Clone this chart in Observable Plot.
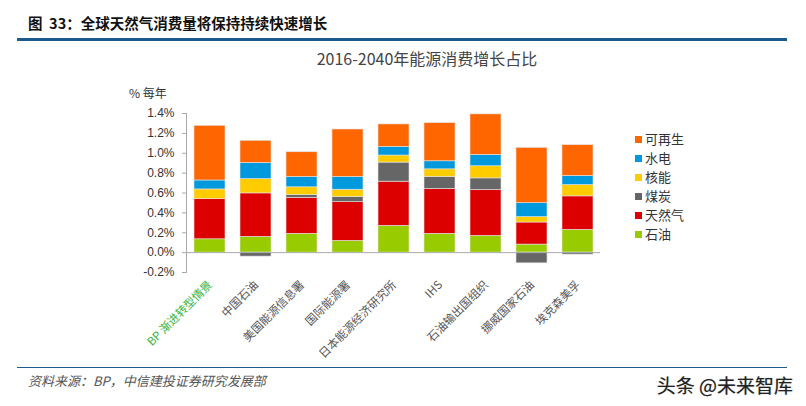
<!DOCTYPE html>
<html><head><meta charset="utf-8">
<script src="https://cdn.jsdelivr.net/npm/d3@7"></script>
<script src="https://cdn.jsdelivr.net/npm/@observablehq/plot@0.6"></script>
<style>
body{margin:0;background:#fff;width:806px;height:406px;overflow:hidden;position:relative;font-family:"Noto Sans CJK SC","Noto Sans",sans-serif;}
.abs{position:absolute;white-space:nowrap;}
.lg{position:absolute;left:635px;font-size:13px;color:#333;line-height:19px;}
.lg span{display:inline-block;width:7px;height:7px;margin-right:3px;vertical-align:middle;position:relative;top:-1px;}
</style></head><body>
<div id="chart" class="abs" style="left:0;top:0"></div>
<div class="abs" style="left:28px;top:12px;font-size:14.5px;font-weight:bold;color:#111;line-height:22px;">图&nbsp;&nbsp;33：全球天然气消费量将保持持续快速增长</div>
<div class="abs" style="left:17px;top:38px;width:770px;height:3px;background:#1a5a8c;"></div>
<div class="abs" style="left:0;width:854px;top:46px;text-align:center;font-size:16px;color:#444;line-height:24px;">2016-2040年能源消费增长占比</div>
<div class="abs" style="left:129px;top:84px;font-size:12px;color:#333;line-height:18px;">% 每年</div>
<div id="legend"></div>
<div class="abs" style="left:17px;top:367px;width:770px;height:1px;background:#1f5c8c;"></div>
<div class="abs" style="left:28px;top:371px;font-size:13px;font-style:italic;color:#555;line-height:20px;">资料来源：BP，中信建投证券研究发展部</div>
<div class="abs" style="right:13px;top:373px;font-size:19px;color:#222;line-height:24px;text-shadow:0 0 1px #999;">头条 @未来智库</div>
<script>
const categories = ["BP 渐进转型情景","中国石油","美国能源信息署","国际能源署","日本能源经济研究所","IHS","石油输出国组织","挪威国家石油","埃克森美孚"];
const series = ["石油","天然气","煤炭","核能","水电","可再生"];
const colors = ["#99cc00","#dd0000","#666666","#ffcc00","#0099dd","#ff6600"];
const oil     = [0.134,0.158,0.189,0.118,0.269,0.189,0.168,0.081,0.229];
const gas     = [0.404,0.438,0.363,0.390,0.445,0.451,0.462,0.222,0.337];
const coal    = [0.000,-0.040,0.027,0.051,0.192,0.121,0.117,-0.108,-0.020];
const nuclear = [0.098,0.144,0.078,0.074,0.071,0.077,0.122,0.054,0.114];
const hydro   = [0.090,0.162,0.104,0.128,0.087,0.081,0.114,0.141,0.091];
const renew   = [0.550,0.223,0.249,0.478,0.226,0.384,0.408,0.556,0.310];
const yTicks  = [-0.2,0,0.2,0.4,0.6,0.8,1.0,1.2,1.4];

const values = [oil, gas, coal, nuclear, hydro, renew];
const rows = [];
series.forEach((s, i) => categories.forEach((c, j) => rows.push({cat: c, series: s, value: values[i][j]})));

const chart = Plot.plot({
  width: 806, height: 406,
  marginLeft: 186, marginRight: 206, marginTop: 113, marginBottom: 134,
  style: {fontFamily: "'Liberation Sans', Arial, sans-serif", fontSize: "12px", color: "#333", background: "transparent"},
  x: {domain: categories, paddingInner: 0.33, paddingOuter: 0.16, axis: null},
  y: {domain: [-0.2, 1.4], axis: null},
  color: {domain: series, range: colors},
  marks: [
    Plot.axisY({ticks: yTicks, tickFormat: d => d.toFixed(1) + "%", tickSize: 4, tickPadding: 8, stroke: "#aaa", fill: "#333", fontSize: 12, label: null}),
    Plot.frame({anchor: "left", stroke: "#aaa"}),
    Plot.barY(rows, {x: "cat", y: "value", fill: "series", stroke: "#e4e4e4", strokeWidth: 0.6}),
    Plot.ruleY([0], {stroke: "#aaa"}),
    Plot.text(categories, {x: d => d, frameAnchor: "bottom", dx: 3, dy: 13, rotate: -45, textAnchor: "end",
      fill: d => d === categories[0] ? "#3cb43c" : "#555", fontSize: 11.5,
      fontFamily: "'Noto Sans CJK SC', sans-serif"})
  ]
});
document.getElementById("chart").appendChild(chart);

const legend = document.getElementById("legend");
const order = series.slice().reverse();
order.forEach((s, k) => {
  const i = series.indexOf(s);
  const d = document.createElement("div");
  d.className = "lg";
  d.style.top = (129 + k * 19) + "px";
  d.innerHTML = `<span style="background:${colors[i]}"></span>${s}`;
  legend.appendChild(d);
});
</script>
</body></html>
